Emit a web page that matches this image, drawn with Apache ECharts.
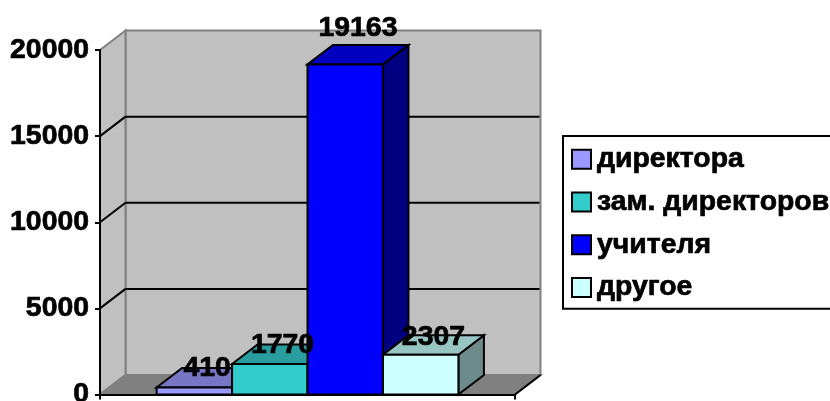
<!DOCTYPE html>
<html>
<head>
<meta charset="utf-8">
<style>
  html, body { margin: 0; padding: 0; background: #fff; }
  #chart { width: 830px; height: 401px; }
</style>
<script src="https://cdn.jsdelivr.net/npm/echarts@6/dist/echarts.min.js"></script>
</head>
<body>
<div id="chart"></div>
<script>
  var names = ["директора", "зам. директоров", "учителя", "другое"];
  var values = [410, 1770, 19163, 2307];
  var yTicks = [0, 5000, 10000, 15000, 20000];
  var band = [""];

  var frontColors = ["#9999FF", "#33CCCC", "#0000FF", "#CCFFFF"];
  var topColors = ["#7676C5", "#299D9D", "#0000C0", "#99C4C4"];
  var sideColors = ["#55558E", "#1C7070", "#000080", "#6E8B8B"];
  var labelLift = [19, 19, 36, 18];

  // 3d offset of the chart box, in px
  var depthX = 25.5;
  var depthY = 19.5;
  var gapRatio = 0.75; // gap on each side, in bar widths
  var font = "bold 28.4px 'Liberation Sans', Arial, sans-serif";
  var textWeight = 0.7; // the original text is a bit fatter than the font

  function poly(points, fill, stroke, width) {
    return {
      type: "polygon",
      shape: { points: points },
      style: { fill: fill, stroke: stroke, lineWidth: width, lineJoin: "miter" },
    };
  }

  function line(x1, y1, x2, y2, color) {
    return {
      type: "line",
      shape: { x1: x1, y1: y1, x2: x2, y2: y2 },
      style: { stroke: color, lineWidth: 2 },
    };
  }

  function renderWalls(params, api) {
    var w = api.size([1, 0])[0];
    var left = api.coord([0, 0])[0] - w / 2;
    var right = left + w;
    var y0 = api.coord([0, 0])[1];
    var yMax = api.coord([0, yTicks[yTicks.length - 1]])[1];
    var kids = [
      // back wall, left wall, floor
      poly([[left + depthX, yMax - depthY], [right + depthX, yMax - depthY], [right + depthX, y0 - depthY], [left + depthX, y0 - depthY]], "#C0C0C0", "#808080", 2),
      poly([[left, yMax], [left + depthX, yMax - depthY], [left + depthX, y0 - depthY], [left, y0]], "#C0C0C0", "#808080", 2),
      poly([[left, y0], [left + depthX, y0 - depthY], [right + depthX, y0 - depthY], [right, y0]], "#808080", "#808080", 2),
      line(right, y0, right + depthX, y0 - depthY, "#000"),
      // the band axis gives no end ticks for one category
      line(left, y0, left, y0 + 5, "#000"),
      line(right, y0, right, y0 + 5, "#000"),
    ];
    yTicks.forEach(function (t) {
      if (t === 0 || t === yTicks[yTicks.length - 1]) return;
      var y = api.coord([0, t])[1];
      kids.push(line(left, y, left + depthX, y - depthY, "#000"));
      kids.push(line(left + depthX, y - depthY, right + depthX - 1, y - depthY, "#000"));
    });
    return { type: "group", children: kids };
  }

  function barBox(api, i) {
    var w = api.size([1, 0])[0];
    var barW = w / (names.length + 2 * gapRatio);
    var x0 = api.coord([0, 0])[0] - w / 2 + gapRatio * barW + i * barW;
    return { x0: x0, x1: x0 + barW, bottom: api.coord([0, 0])[1], top: api.coord([0, api.value(1)])[1] };
  }

  function renderBar(i) {
    return function (params, api) {
      var b = barBox(api, i);
      return {
        type: "group",
        children: [
          poly([[b.x1, b.bottom], [b.x1 + depthX, b.bottom - depthY], [b.x1 + depthX, b.top - depthY], [b.x1, b.top]], sideColors[i], "#000", 2),
          poly([[b.x0, b.top], [b.x0 + depthX, b.top - depthY], [b.x1 + depthX, b.top - depthY], [b.x1, b.top]], topColors[i], "#000", 2),
          poly([[b.x0, b.top], [b.x1, b.top], [b.x1, b.bottom], [b.x0, b.bottom]], frontColors[i], "#000", 2),
        ],
      };
    };
  }

  function renderLabel(params, api) {
    var i = params.dataIndex;
    var b = barBox(api, i);
    return {
      type: "text",
      style: {
        x: (b.x0 + b.x1) / 2 + depthX / 2,
        y: b.top - labelLift[i],
        text: String(api.value(1)),
        font: font,
        fill: "#000",
        stroke: "#000",
        lineWidth: textWeight,
        textAlign: "center",
        textVerticalAlign: "middle",
      },
    };
  }

  var series = [
    {
      name: "walls",
      type: "custom",
      z: 0,
      silent: true,
      encode: { x: 0, y: 1 },
      data: [[0, 0]],
      renderItem: renderWalls,
    },
  ];
  names.forEach(function (name, i) {
    series.push({
      name: name,
      type: "custom",
      z: 2,
      silent: true,
      encode: { x: 0, y: 1 },
      itemStyle: { color: frontColors[i], borderColor: "#000", borderWidth: 2 },
      data: [[0, values[i]]],
      renderItem: renderBar(i),
    });
  });
  series.push({
    name: "labels",
    type: "custom",
    z: 3,
    silent: true,
    encode: { x: 0, y: 1 },
    data: values.map(function (v) {
      return [0, v];
    }),
    renderItem: renderLabel,
  });

  var charts = echarts.init(document.getElementById("chart"), null, { renderer: "canvas" });
  charts.setOption({
    animation: false,
    backgroundColor: "#fff",
    grid: { left: 100, right: 315, top: 50, height: 344.5, outerBoundsMode: "none" },
    xAxis: {
      type: "category",
      data: band,
      z: 1,
      axisTick: { show: false },
      axisLine: { lineStyle: { color: "#000", width: 2 } },
      axisLabel: { show: false },
    },
    yAxis: {
      type: "value",
      min: 0,
      max: 20000,
      interval: 5000,
      z: 1,
      splitLine: { show: false },
      axisTick: { show: true, length: 5, lineStyle: { color: "#000", width: 2 } },
      axisLine: { show: true, lineStyle: { color: "#000", width: 2 } },
      axisLabel: {
        color: "#000",
        fontFamily: "Liberation Sans",
        fontWeight: "bold",
        fontSize: 28.4,
        margin: 11,
        textBorderColor: "#000",
        textBorderWidth: textWeight,
        formatter: function (v) {
          return String(v);
        },
      },
    },
    legend: {
      orient: "vertical",
      left: 563,
      top: 136,
      padding: [9, 10, 7, 8],
      selectedMode: false,
      icon: "rect",
      itemWidth: 19,
      itemHeight: 19,
      itemGap: 14,
      borderColor: "#000",
      borderWidth: 2,
      textStyle: {
        color: "#000",
        fontFamily: "Liberation Sans",
        fontWeight: "bold",
        fontSize: 28.4,
        padding: [3, 0, 0, 1],
        textBorderColor: "#000",
        textBorderWidth: textWeight,
      },
      data: names.map(function (name, i) {
        return {
          name: name,
          itemStyle: { color: frontColors[i], borderColor: "#000", borderWidth: 2 },
        };
      }),
    },
    series: series,
  });
</script>
</body>
</html>
